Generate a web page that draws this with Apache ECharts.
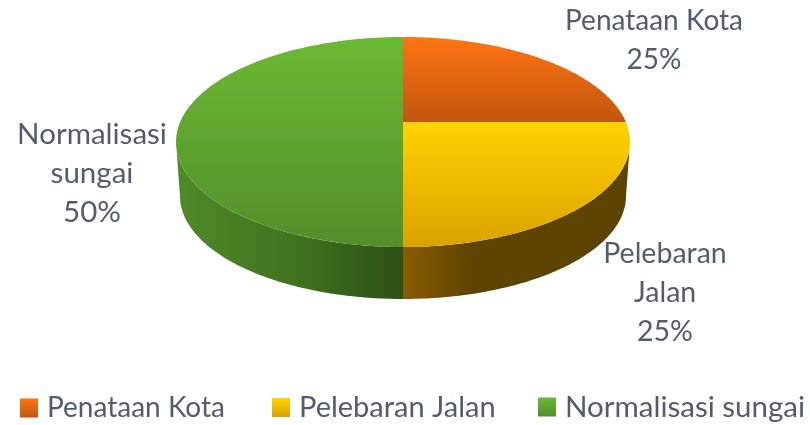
<!DOCTYPE html>
<html>
<head>
<meta charset="utf-8">
<style>html,body{margin:0;padding:0;background:#fff}#c{width:810px;height:425px}</style>
<script src="https://cdn.jsdelivr.net/npm/echarts@6/dist/echarts.min.js"></script>
</head>
<body>
<div id="c"></div>
<script>
const categories = ['Penataan Kota', 'Pelebaran Jalan', 'Normalisasi sungai'];
const values = [25, 25, 50];
const labelTexts = ['Penataan Kota', 'Pelebaran\nJalan', 'Normalisasi\nsungai'];

const topColors = [['#ff7412', '#c2560e'], ['#ffd200', '#dba200'], ['#6cb933', '#528e2a']];
const sideStops = [
  [[0, '#c2560e'], [1, '#c2560e']],
  [[0, '#8a5c00'], [0.3, '#5e4400'], [1, '#5c4400']],
  [[0, '#4f8a28'], [0.5, '#42741f'], [1, '#2c5016']]
];
const labelSpots = [[654, 40], [665, 293], [92, 173]];
const labelSizes = [28, 28.5, 29.5];
const legendSizes = [28, 29, 29.5];
const legendLefts = [20, 272, 538];
const legendTops = [394, 393, 392];

const G = {cx: 403, cy: 142, rx: 227, ry: 105, apexY: 122, bx: 403, by: 196, brx: 223, bry: 103, k: 0.46};
const TEXT = '#515d6e';
const total = values.reduce((a, b) => a + b, 0);
const startShare = i => values.slice(0, i).reduce((a, b) => a + b, 0) / total;

function grad(c) {
  return new echarts.graphic.LinearGradient(0, 0, 0, 1,
    [{offset: 0, color: c[0]}, {offset: 1, color: c[1]}]);
}
function gradH(stops) {
  return new echarts.graphic.LinearGradient(0, 0, 1, 0, stops.map(s => ({offset: s[0], color: s[1]})));
}
// angle on the pie (clockwise from top) -> parameter on the tilted rim, seen from the off-centre apex
function rimParam(theta) {
  const dx = Math.sin(theta), dy = -Math.cos(theta) * G.k;
  const oy = G.apexY - G.cy;
  const a = dx * dx / (G.rx * G.rx) + dy * dy / (G.ry * G.ry);
  const b = 2 * oy * dy / (G.ry * G.ry);
  const c = oy * oy / (G.ry * G.ry) - 1;
  const t = (-b + Math.sqrt(b * b - 4 * a * c)) / (2 * a);
  const x = t * dx, y = oy + t * dy;
  let p = Math.atan2(x / G.rx, -y / G.ry);
  if (p < -1e-6) p += Math.PI * 2;
  return p;
}
const onTop = p => [G.cx + G.rx * Math.sin(p), G.cy - G.ry * Math.cos(p)];
const onBase = p => [G.bx + G.brx * Math.sin(p), G.by - G.bry * Math.cos(p)];

function renderSlice(params) {
  const i = params.seriesIndex;
  const a0 = startShare(i) * Math.PI * 2, a1 = startShare(i + 1) * Math.PI * 2;
  const p0 = rimParam(a0), p1 = a1 >= Math.PI * 2 - 1e-6 ? Math.PI * 2 : rimParam(a1);
  const steps = 90;
  const face = [[G.cx, G.apexY]];
  for (let s = 0; s <= steps; s++) face.push(onTop(p0 + (p1 - p0) * s / steps));
  const children = [];
  const s0 = Math.max(p0, Math.PI / 2), s1 = Math.min(p1, Math.PI * 1.5);
  if (s1 > s0) {
    const wall = [];
    for (let s = 0; s <= steps; s++) wall.push(onTop(s0 + (s1 - s0) * s / steps));
    for (let s = steps; s >= 0; s--) wall.push(onBase(s0 + (s1 - s0) * s / steps));
    children.push({type: 'polygon', shape: {points: wall}, style: {fill: gradH(sideStops[i])}});
  }
  children.push({type: 'polygon', shape: {points: face}, style: {fill: grad(topColors[i])}});
  const pct = Math.round(values[i] / total * 100) + '%';
  children.push({
    type: 'text', z2: 10,
    style: {
      x: labelSpots[i][0], y: labelSpots[i][1],
      text: labelTexts[i] + '\n' + pct,
      align: 'center', verticalAlign: 'middle',
      fontFamily: 'Lato', fontSize: labelSizes[i], lineHeight: 39, fill: TEXT
    }
  });
  return {type: 'group', children};
}

const chart = echarts.init(document.getElementById('c'), null, {renderer: 'canvas'});
chart.setOption({
  animation: false,
  backgroundColor: '#fff',
  legend: categories.map((n, i) => ({
    left: legendLefts[i], top: legendTops[i], padding: 0, itemWidth: 18, itemHeight: 19,
    icon: 'rect',
    textStyle: {fontFamily: 'Lato', fontSize: legendSizes[i], color: TEXT, padding: [0, 0, 0, 4]},
    data: [{name: n, itemStyle: {color: grad(topColors[i])}}]
  })),
  series: categories.map((n, i) => ({
    type: 'custom', name: n, coordinateSystem: 'none', silent: true,
    itemStyle: {color: topColors[i][0]},
    data: [values[i]],
    renderItem: renderSlice
  }))
});
</script>
</body>
</html>
